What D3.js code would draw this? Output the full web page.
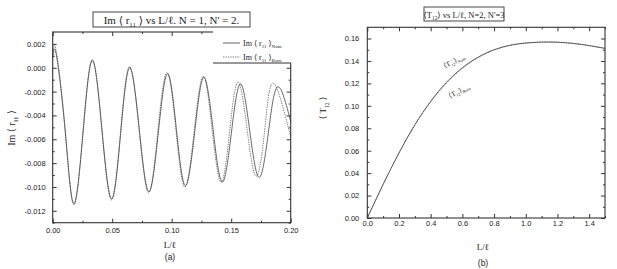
<!DOCTYPE html>
<html>
<head>
<meta charset="utf-8">
<script src="https://cdn.jsdelivr.net/npm/d3@7"></script>
<style>
body { margin: 0; background: #fff; }
text { fill: #222; }
</style>
</head>
<body>
<script>
// ---- panel (a): Im<r11> vs L/l ----
const numL  = [0.000, 0.003, 0.0104, 0.0177, 0.0255, 0.0333, 0.0414, 0.0495, 0.0571, 0.0647, 0.0728, 0.0808, 0.0887, 0.0965, 0.1040, 0.1115, 0.1193, 0.1270, 0.1348, 0.1425, 0.1501, 0.1577, 0.1656, 0.1735, 0.1813, 0.1890, 0.2000];
const numIm = [0.0008, 0.0011, -0.0052, -0.0114, -0.0054, 0.0006, -0.0052, -0.0110, -0.0055, 0.0000, -0.0052, -0.0104, -0.0055, -0.0005, -0.0052, -0.0099, -0.0054, -0.0008, -0.0052, -0.0096, -0.0055, -0.00135, -0.0053, -0.0092, -0.0054, -0.0016, -0.0045];
const bornL  = [0.000, 0.003, 0.0104, 0.0177, 0.0255, 0.0333, 0.0413, 0.0493, 0.0569, 0.0645, 0.0726, 0.0806, 0.0883, 0.0960, 0.1035, 0.1110, 0.1188, 0.1265, 0.1340, 0.1415, 0.1486, 0.1557, 0.1634, 0.1710, 0.1782, 0.1853, 0.2000];
const bornIm = [0.0010, 0.0014, -0.0051, -0.0115, -0.0054, 0.0007, -0.0052, -0.0111, -0.0055, 0.0001, -0.0052, -0.0105, -0.0054, -0.0004, -0.0052, -0.0100, -0.0054, -0.0007, -0.0052, -0.0096, -0.0054, -0.0012, -0.0052, -0.0091, -0.0052, -0.0013, -0.0058];
const aXTicks = [0.00, 0.05, 0.10, 0.15, 0.20];
const aYTicks = [0.002, 0.000, -0.002, -0.004, -0.006, -0.008, -0.010, -0.012];

// ---- panel (b): <T12> vs L/l ----
const tL     = [0, 0.1, 0.2, 0.3, 0.4, 0.5, 0.6, 0.7, 0.8, 0.9, 1.0, 1.1, 1.2, 1.3, 1.4, 1.5];
const tNum   = [0, 0.030, 0.058, 0.083, 0.104, 0.121, 0.134, 0.1435, 0.150, 0.1540, 0.1560, 0.1568, 0.1567, 0.1556, 0.1537, 0.1512];
const tBorn  = [0, 0.030, 0.058, 0.083, 0.1035, 0.1203, 0.1333, 0.1430, 0.1497, 0.1538, 0.1559, 0.1567, 0.1567, 0.1556, 0.1537, 0.1512];
const bXTicks = [0.0, 0.2, 0.4, 0.6, 0.8, 1.0, 1.2, 1.4];
const bYTicks = [0.00, 0.02, 0.04, 0.06, 0.08, 0.10, 0.12, 0.14, 0.16];

const W = 617, H = 269;
const svg = d3.select("body").append("svg")
    .attr("width", W)
    .attr("height", H);

const serif = "'Liberation Serif', 'DejaVu Serif', serif";
const sans = "'Liberation Sans', Arial, sans-serif";

// text with subscript pieces: parts = [[str, isSub], ...]
function richText(g, parts, size) {
    const t = g.append("text").style("font-family", serif).style("font-size", size + "px");
    let sub = false;
    parts.forEach(([s, isSub]) => {
        const dy = isSub && !sub ? size * 0.3 : (!isSub && sub ? -size * 0.3 : 0);
        t.append("tspan")
            .attr("dy", dy)
            .style("font-size", (isSub ? size * 0.62 : size) + "px")
            .text(s);
        sub = isSub;
    });
    return t;
}

function panel(o) {
    const x = d3.scaleLinear().domain(o.xDomain).range([o.left, o.right]);
    const y = d3.scaleLinear().domain(o.yDomain).range([o.bottom, o.top]);
    const g = svg.append("g");

    const axes = [
        [() => d3.axisBottom(x), `translate(0,${o.bottom})`, o.xTicks, o.xMinor, true, o.xFmt, o.xPad],
        [() => d3.axisTop(x), `translate(0,${o.top})`, o.xTicks, o.xMinor, false],
        [() => d3.axisLeft(y), `translate(${o.left},0)`, o.yTicks, o.yMinor, true, o.yFmt, o.yPad],
        [() => d3.axisRight(y), `translate(${o.right},0)`, o.yTicks, o.yMinor, false],
    ];
    axes.forEach(([mk, tr, major, minor, labels, fmt, pad]) => {
        const a = g.append("g").attr("transform", tr)
            .call(mk().tickValues(major).tickSizeInner(-4).tickSizeOuter(0)
                .tickPadding(pad || 3)
                .tickFormat(labels ? fmt : () => ""));
        a.select(".domain").remove();
        a.selectAll("line").attr("stroke", "#333");
        a.selectAll("text").style("font-family", sans).style("font-size", "7.5px").attr("fill", "#222");
        const m = g.append("g").attr("transform", tr)
            .call(mk().tickValues(minor).tickSizeInner(-2).tickSizeOuter(0).tickFormat(() => ""));
        m.select(".domain").remove();
        m.selectAll("line").attr("stroke", "#333");
    });

    const line = d3.line().curve(d3.curveNatural).x(d => x(d[0])).y(d => y(d[1]));
    o.series.forEach(s => {
        g.append("path")
            .datum(d3.zip(s.xs, s.ys))
            .attr("fill", "none")
            .attr("stroke", s.color)
            .attr("stroke-width", s.width)
            .attr("stroke-dasharray", s.dash)
            .attr("d", line);
    });

    g.append("rect")
        .attr("x", o.left).attr("y", o.top)
        .attr("width", o.right - o.left).attr("height", o.bottom - o.top)
        .attr("fill", "none").attr("stroke", "#333").attr("stroke-width", 1.1);
    return { g, x, y };
}

const fmtDash = f => d => d3.format(f)(d).replace("\u2212", "-");

// ---------- (a) ----------
const A = panel({
    left: 52.7, right: 290.7, top: 32, bottom: 222.7,
    xDomain: [0, 0.2], yDomain: [-0.013, 0.003],
    xTicks: aXTicks, xMinor: d3.range(0.025, 0.2, 0.05),
    yTicks: aYTicks, yMinor: d3.range(-0.013, 0.003, 0.002),
    xFmt: fmtDash(".2f"), yFmt: fmtDash(".3f"), xPad: 4.5, yPad: 7,
    series: [
        { xs: bornL, ys: bornIm, color: "#555", width: 0.8, dash: "1.3,1.1" },
        { xs: numL, ys: numIm, color: "#444", width: 0.8, dash: null },
    ],
});

// legend covering the top-right corner
svg.append("rect").attr("x", 213).attr("y", 30).attr("width", 80).attr("height", 33).attr("fill", "#fff");
svg.append("line").attr("x1", 213).attr("x2", 291).attr("y1", 63).attr("y2", 63).attr("stroke", "#333");
svg.append("line").attr("x1", 223).attr("x2", 240).attr("y1", 43).attr("y2", 43).attr("stroke", "#444").attr("stroke-width", 0.8);
svg.append("line").attr("x1", 223).attr("x2", 240).attr("y1", 57).attr("y2", 57).attr("stroke", "#555").attr("stroke-width", 0.8).attr("stroke-dasharray", "1.3,1.1");
richText(svg.append("g").attr("transform", "translate(243,46)"),
    [["Im \u27e8 r", false], ["11", true], [" \u27e9", false], ["Num", true]], 8);
richText(svg.append("g").attr("transform", "translate(243,60)"),
    [["Im \u27e8 r", false], ["11", true], [" \u27e9", false], ["Born", true]], 8);

// title (a)
svg.append("rect").attr("x", 93).attr("y", 12).attr("width", 157).attr("height", 15)
    .attr("fill", "#fff").attr("stroke", "#333").attr("stroke-width", 0.9);
richText(svg.append("g").attr("transform", "translate(171.5,23.5)"),
    [["Im \u27e8 r", false], ["11", true], [" \u27e9 vs  L/\u2113. N = 1, N' = 2.", false]], 11)
    .attr("text-anchor", "middle");

richText(svg.append("g").attr("transform", "translate(15,128) rotate(-90)"),
    [["Im \u27e8 r", false], ["11", true], [" \u27e9", false]], 10)
    .attr("text-anchor", "middle");
svg.append("text").attr("x", 170).attr("y", 248).attr("text-anchor", "middle")
    .style("font-family", serif).style("font-size", "9px").text("L/\u2113");
svg.append("text").attr("x", 170).attr("y", 260).attr("text-anchor", "middle")
    .style("font-family", sans).style("font-size", "8.5px").text("(a)");

// ---------- (b) ----------
const B = panel({
    left: 367.3, right: 605, top: 27.3, bottom: 218,
    xDomain: [0, 1.5], yDomain: [0, 0.17],
    xTicks: bXTicks, xMinor: d3.range(0.1, 1.55, 0.2),
    yTicks: bYTicks, yMinor: d3.range(0.01, 0.17, 0.02),
    xFmt: fmtDash(".1f"), yFmt: fmtDash(".2f"), xPad: 3, yPad: 8,
    series: [
        { xs: tL, ys: tBorn, color: "#555", width: 0.8, dash: "1.3,1.1" },
        { xs: tL, ys: tNum, color: "#444", width: 0.8, dash: null },
    ],
});

svg.append("rect").attr("x", 424).attr("y", 7).attr("width", 80).attr("height", 14)
    .attr("fill", "#fff").attr("stroke", "#333").attr("stroke-width", 0.9);
richText(svg.append("g").attr("transform", "translate(464,17.5)"),
    [["\u27e8T", false], ["12", true], ["\u27e9 vs L/\u2113, N=2, N'=3", false]], 8.5)
    .attr("text-anchor", "middle");

richText(svg.append("g").attr("transform", "translate(326,108) rotate(-90)"),
    [["\u27e8 T", false], ["12", true], [" \u27e9", false]], 9)
    .attr("text-anchor", "middle");
svg.append("text").attr("x", 483).attr("y", 250).attr("text-anchor", "middle")
    .style("font-family", serif).style("font-size", "9px").text("L/\u2113");
svg.append("text").attr("x", 483).attr("y", 266).attr("text-anchor", "middle")
    .style("font-family", sans).style("font-size", "8.5px").text("(b)");

richText(svg.append("g").attr("transform", "translate(455,63) rotate(-28)"),
    [["\u27e8T", false], ["12", true], ["\u27e9", false], ["Num", true]], 7)
    .attr("text-anchor", "middle");
richText(svg.append("g").attr("transform", "translate(460,93) rotate(-28)"),
    [["\u27e8T", false], ["12", true], ["\u27e9", false], ["Born", true]], 7)
    .attr("text-anchor", "middle");
</script>
</body>
</html>
